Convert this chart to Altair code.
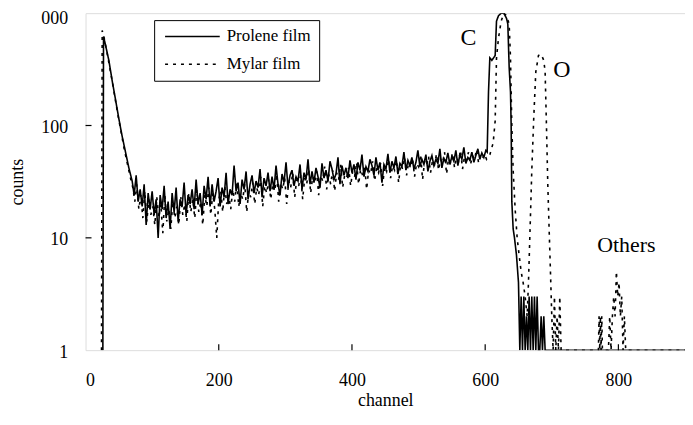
import altair as alt
import pandas as pd

FONT = "Liberation Serif"

series_names = ["Prolene film", "Mylar film"]
x_ticks = [0, 200, 400, 600, 800]
y_ticks = [1, 10, 100, 1000]
inner_x_ticks = [200, 400, 600, 800]
inner_y_ticks = [10, 100]

# ---- Prolene film (solid) ----
prolene_head_ch = [26, 27, 30, 35, 40, 45, 50, 55, 60, 65]
prolene_head_counts = [1, 620, 520, 380, 250, 170, 115, 80, 58, 42]

prolene_body_ch = list(range(70, 602, 3))
prolene_body_counts = [
    32, 24, 36, 21, 27, 19, 30, 13, 25, 18,
    26, 16, 22, 10, 24, 18, 29, 15, 21, 12,
    25, 17, 28, 14, 22, 19, 31, 16, 24, 20,
    27, 18, 33, 20, 25, 16, 29, 22, 35, 19,
    30, 21, 26, 34, 19, 28, 23, 38, 20, 27,
    24, 44, 26, 31, 20, 33, 27, 39, 22, 30,
    36, 25, 32, 28, 41, 23, 34, 29, 38, 26,
    35, 27, 44, 30, 24, 37, 31, 47, 28, 36,
    40, 29, 35, 32, 45, 27, 38, 33, 50, 30,
    39, 31, 42, 35, 28, 46, 34, 40, 32, 48,
    41, 33, 37, 52, 30, 44, 36, 42, 34, 49,
    38, 45, 33, 47, 40, 55, 35, 43, 39, 50,
    44, 36, 52, 40, 47, 31, 45, 41, 56, 38,
    48, 42, 53, 37, 46, 43, 58, 40, 49, 44,
    52, 41, 47, 60, 43, 50, 45, 55, 39, 48,
    54, 44, 50, 46, 62, 42, 51, 47, 57, 45,
    53, 48, 60, 44, 55, 50, 64, 46, 52, 49,
    58, 47, 54, 62, 50, 57, 52, 60,
]

prolene_tail_ch = [603, 605, 607, 610, 615, 617, 620, 624, 628, 632,
                   634, 636, 638, 639, 640, 642, 644, 647, 650, 652,
                   654, 656, 658, 660, 662, 664, 666, 668, 670, 672,
                   674, 676, 678, 680, 682, 684, 686, 688, 690, 900]
prolene_tail_counts = [58, 200, 400, 380, 420, 850, 950, 1000, 1000, 900,
                       800, 330, 200, 100, 21, 12, 10, 7, 4, 1,
                       3, 1, 3, 1, 2, 1, 3, 1, 3, 1,
                       3, 1, 3, 1, 1, 2, 1, 2, 1, 1]

# ---- Mylar film (dotted) ----
mylar_head_ch = [24, 25, 28, 33, 38, 43, 48, 53, 58, 63, 68]
mylar_head_counts = [1, 700, 600, 420, 290, 195, 130, 90, 62, 45, 33]

mylar_body_ch = list(range(71, 600, 3))
mylar_body_counts = [
    28, 21, 30, 18, 24, 15, 26, 14, 22, 16,
    19, 13, 23, 15, 20, 11, 24, 14, 18, 12,
    21, 15, 19, 13, 23, 16, 20, 14, 25, 17,
    22, 15, 27, 17, 21, 13, 24, 19, 28, 16,
    25, 18, 10, 22, 26, 17, 29, 20, 24, 18,
    27, 21, 32, 19, 25, 22, 30, 17, 26, 23,
    31, 20, 28, 24, 35, 19, 29, 25, 33, 22,
    30, 26, 37, 21, 31, 27, 34, 20, 32, 28,
    38, 23, 33, 29, 36, 22, 34, 30, 41, 25,
    35, 31, 39, 24, 36, 32, 43, 27, 37, 30,
    40, 26, 38, 33, 45, 28, 36, 34, 42, 29,
    39, 35, 47, 30, 41, 36, 44, 27, 40, 37,
    48, 32, 42, 38, 46, 29, 43, 39, 50, 34,
    44, 40, 49, 31, 45, 41, 52, 36, 47, 42,
    51, 35, 46, 43, 55, 33, 48, 44, 53, 38,
    49, 45, 56, 40, 50, 46, 58, 37, 51, 47,
    57, 42, 52, 48, 60, 41, 53, 49, 58, 45,
    54, 50, 61, 47, 55, 51, 56,
]

mylar_tail_ch = [602, 607, 612, 615, 617, 620, 624, 628, 632, 636,
                 638, 640, 642, 645, 648, 651, 654, 657, 660, 663,
                 665, 667, 670, 673, 676, 680, 684, 688, 690, 692,
                 694, 696, 698, 700, 702, 704, 706, 708, 710, 712,
                 714, 770, 771, 772, 773, 774, 775, 776, 785, 787,
                 789, 791, 793, 795, 797, 799, 801, 803, 805, 807,
                 809, 811, 900]
mylar_tail_counts = [50, 55, 70, 110, 400, 600, 850, 1000, 950, 800,
                     400, 100, 40, 18, 10, 7, 5, 4, 3, 2,
                     4, 10, 40, 120, 300, 420, 430, 380, 300, 100,
                     30, 12, 5, 2, 1, 3, 1, 2, 1, 3,
                     1, 1, 2, 1, 2, 1, 2, 1, 1, 2,
                     1, 2, 3, 2, 5, 3, 4, 2, 3, 1,
                     2, 1, 1]

# ---- annotations ----
note_labels = ["C", "O", "Others"]
note_ch = [575, 715, 812]
note_counts = [600, 313, 8.7]
note_sizes = [24, 24, 22]

rows = []
for chs, vals in [(prolene_head_ch, prolene_head_counts),
                  (prolene_body_ch, prolene_body_counts),
                  (prolene_tail_ch, prolene_tail_counts)]:
    for c, v in zip(chs, vals):
        rows.append({"channel": c, "counts": v, "series": "Prolene film"})
for chs, vals in [(mylar_head_ch, mylar_head_counts),
                  (mylar_body_ch, mylar_body_counts),
                  (mylar_tail_ch, mylar_tail_counts)]:
    for c, v in zip(chs, vals):
        rows.append({"channel": c, "counts": v, "series": "Mylar film"})
df = pd.DataFrame(rows)

notes = pd.DataFrame({"label": note_labels, "channel": note_ch,
                      "counts": note_counts, "size": note_sizes})

W, H = 603, 339

xscale = alt.Scale(domain=[0, 900], nice=False, zero=False)
yscale = alt.Scale(type="log", domain=[1, 1000], nice=False)

lines = alt.Chart(df).mark_line(color="black", strokeWidth=1.6, clip=True).encode(
    x=alt.X("channel:Q", scale=xscale,
            axis=alt.Axis(values=x_ticks, title="channel", ticks=False, domain=False,
                          grid=False, labelFont=FONT, labelFontSize=18, labelColor="black",
                          labelPadding=22, titleFont=FONT, titleFontSize=18,
                          titleFontWeight="normal", titleColor="black",
                          titleY=56, titleBaseline="alphabetic")),
    y=alt.Y("counts:Q", scale=yscale,
            axis=alt.Axis(values=y_ticks, title="counts", ticks=False, domain=False,
                          grid=False, labelFont=FONT, labelFontSize=18, labelColor="black",
                          labelPadding=18,
                          labelOffset={"condition": {"test": "datum.value == 1000", "value": 5},
                                       "value": 2},
                          labelExpr="datum.value == 1000 ? '000' : datum.label",
                          titleFont=FONT, titleFontSize=18, titleFontWeight="normal",
                          titleColor="black", titleAngle=270, titleX=-68, titleY=H / 2,
                          titleBaseline="middle", titleAlign="center")),
    strokeDash=alt.StrokeDash(
        "series:N",
        scale=alt.Scale(domain=series_names, range=[[1, 0], [3, 5]]),
        legend=alt.Legend(title=None, orient="none", legendX=69, legendY=7,
                          symbolType="M-1,0H9", symbolSize=121,
                          symbolStrokeColor="black", symbolStrokeWidth=1.5,
                          symbolFillColor="transparent",
                          labelFont=FONT, labelFontSize=17, labelColor="black",
                          labelOffset=48, rowPadding=10, padding=8,
                          strokeColor="black", fillColor="white")),
    order="channel:Q",
)

xt = alt.Chart(pd.DataFrame({"t": inner_x_ticks})).mark_rule(color="black", strokeWidth=1.2).encode(
    x=alt.X("t:Q", scale=xscale), y=alt.value(H), y2=alt.value(H - 6))
yt = alt.Chart(pd.DataFrame({"t": inner_y_ticks})).mark_rule(color="black", strokeWidth=1.2).encode(
    y=alt.Y("t:Q", scale=yscale), x=alt.value(0), x2=alt.value(6))

text = alt.Chart(notes).mark_text(font=FONT, color="black").encode(
    x=alt.X("channel:Q", scale=xscale),
    y=alt.Y("counts:Q", scale=yscale),
    text="label:N",
    size=alt.Size("size:Q", scale=None, legend=None),
)

chart = alt.layer(lines, xt, yt, text).properties(
    width=W, height=H,
    autosize=alt.AutoSizeParams(type="none"),
    padding={"left": 78, "top": 4, "right": 0, "bottom": 62},
).configure_view(stroke="black", strokeWidth=1.5).configure(background="white")

chart.save("out.html", embed_options={"renderer": "svg", "actions": False})
